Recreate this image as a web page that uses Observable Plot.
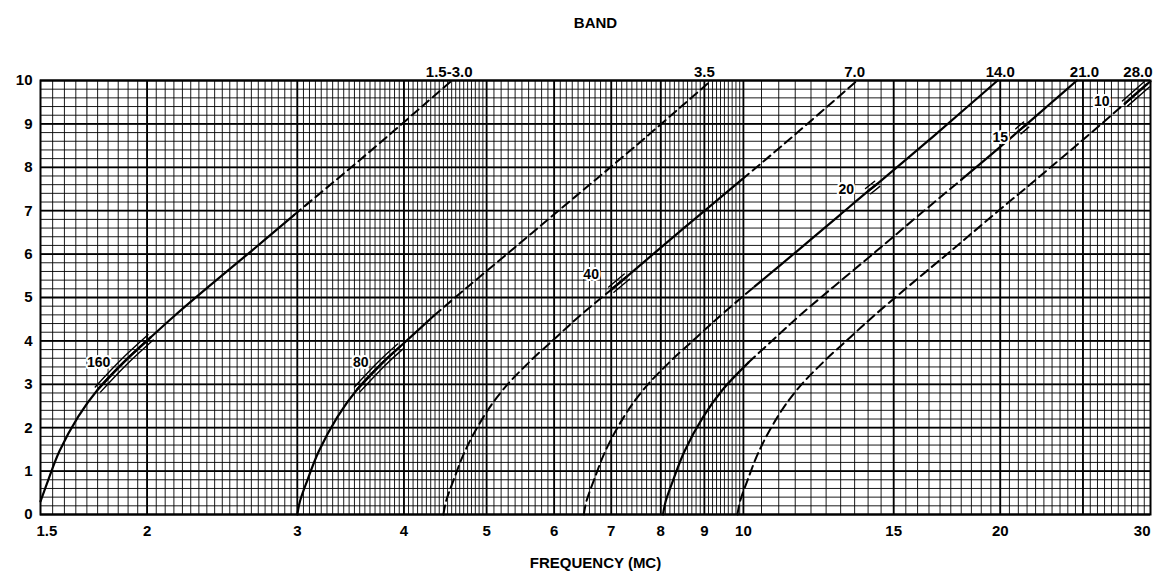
<!DOCTYPE html>
<html>
<head>
<meta charset="utf-8">
<script src="https://cdn.jsdelivr.net/npm/d3@7"></script>
<script src="https://cdn.jsdelivr.net/npm/@observablehq/plot@0.6"></script>
<style>
  html, body { margin: 0; padding: 0; background: #fff; }
  #chart svg { display: block; }
</style>
</head>
<body>
<div id="chart"></div>
<script>
// ---------- DATA ----------
// Curve points: [frequency (MC), value]
const curve160 = [[1.5,0.3],[1.532,0.8],[1.578,1.45],[1.66,2.25],[1.751,2.88],[1.876,3.5],[2.019,4.08],[2.154,4.58],[2.361,5.25],[2.65,6.07],[2.973,6.9],[3.336,7.72],[3.743,8.55],[4.199,9.4],[4.552,10]];
const curve80  = [[3.0,0],[3.021,0.3],[3.084,0.8],[3.178,1.45],[3.343,2.25],[3.525,2.88],[3.777,3.5],[3.96,3.87],[4.336,4.58],[4.755,5.25],[5.335,6.07],[5.986,6.9],[6.716,7.72],[7.536,8.55],[8.455,9.4],[9.165,10]];
const curve40  = [[4.45,0],[4.481,0.3],[4.575,0.8],[4.714,1.45],[4.959,2.25],[5.228,2.88],[5.602,3.5],[6.031,4.08],[6.432,4.58],[7.0,5.18],[7.3,5.48],[7.913,6.07],[8.879,6.9],[9.962,7.72],[11.178,8.55],[12.542,9.4],[13.594,10]];
const curve20  = [[6.5,0],[6.545,0.3],[6.682,0.8],[6.885,1.45],[7.243,2.25],[7.637,2.88],[8.183,3.5],[8.809,4.08],[9.395,4.58],[10.302,5.25],[11.559,6.07],[12.969,6.9],[14.0,7.45],[14.35,7.62],[16.327,8.55],[18.32,9.4],[19.857,10]];
const curve15  = [[8.05,0],[8.106,0.3],[8.275,0.8],[8.527,1.45],[8.97,2.25],[9.458,2.88],[10.134,3.5],[10.909,4.08],[11.635,4.58],[12.758,5.25],[14.315,6.07],[16.062,6.9],[18.022,7.72],[20.221,8.55],[21.0,8.83],[21.45,8.985],[22.688,9.4],[24.592,10]];
const curve10  = [[9.84,0],[9.908,0.3],[10.116,0.8],[10.424,1.45],[10.965,2.25],[11.561,2.88],[12.388,3.5],[13.335,4.08],[14.223,4.58],[15.595,5.25],[17.498,6.07],[19.634,6.9],[22.029,7.72],[24.717,8.55],[28.0,9.47],[29.7,9.91],[30.0,9.98]];

const curveNames = ["160","80","40","20","15","10"];
const curveData  = [curve160, curve80, curve40, curve20, curve15, curve10];

// Line style segments along each curve: [from MC, to MC, style]
const segments160 = [[1.5,2.973,"solid"],[2.973,4.552,"dashed"]];
const segments80  = [[3.0,4.336,"solid"],[4.336,9.165,"dashed"]];
const segments40  = [[4.45,7.0,"dashed"],[7.0,9.962,"solid"],[9.962,13.594,"dashed"]];
const segments20  = [[6.5,10.302,"dashed"],[10.302,19.857,"solid"]];
const segments15  = [[8.05,10.134,"solid"],[10.134,18.022,"dashed"],[18.022,24.592,"solid"]];
const segments10  = [[9.84,28.0,"dashed"],[28.0,30.0,"solid"]];
const segmentData = [segments160, segments80, segments40, segments20, segments15, segments10];

// Band markers (double lines) along each curve: [from MC, to MC]
const bandMarks = [[1.751,2.019],[3.525,3.96],[7.0,7.3],[14.0,14.35],[21.0,21.45],[28.0,29.7]];

// Curve labels: position (MC, value)
const labelFreq  = [1.755, 3.56, 6.63, 13.2, 20.0, 26.3];
const labelValue = [3.5, 3.5, 5.53, 7.49, 8.69, 9.52];

// Top "BAND" axis
const bandLabels = ["1.5-3.0","3.5","7.0","14.0","21.0","28.0"];
const bandFreq   = [4.52, 9.0, 13.5, 20.0, 25.1, 29.0];

// Bottom axis ticks
const freqTicks  = [1.5,2,3,4,5,6,7,8,9,10,15,20,30];
const freqLabels = ["1.5","2","3","4","5","6","7","8","9","10","15","20","30"];
// Left axis ticks
const valueTicks = [0,1,2,3,4,5,6,7,8,9,10];

// ---------- Grid of the graph paper ----------
const vGrid = [
  ...d3.range(150, 500, 5).map(d => d / 100),   // 1.5 – 5 every 0.05
  ...d3.range(50, 100, 1).map(d => d / 10),     // 5 – 10 every 0.1
  ...d3.range(20, 61, 1).map(d => d / 2)        // 10 – 30 every 0.5
];
const vMajor = [2,3,4,5,6,7,8,9,10,15,20,25];
const hGrid = d3.range(0, 51, 1).map(d => d / 5);

// ---------- Build tables ----------
const solidRows = [], dashedRows = [], markRows = [];
curveData.forEach((pts, ci) => {
  segmentData[ci].forEach(([a, b, style], si) => {
    const seg = curveNames[ci] + "-" + si;
    const target = style === "solid" ? solidRows : dashedRows;
    pts.filter(([f]) => f >= a - 1e-9 && f <= b + 1e-9)
       .forEach(([f, v]) => target.push({seg, f, v}));
  });
  const [a, b] = bandMarks[ci];
  pts.filter(([f]) => f >= a - 1e-9 && f <= b + 1e-9)
     .forEach(([f, v]) => markRows.push({seg: curveNames[ci], f, v}));
});
const labelRows = curveNames.map((t, i) => ({t, f: labelFreq[i], v: labelValue[i]}));
const bandMap = new Map(bandFreq.map((f, i) => [f, bandLabels[i]]));
const freqMap = new Map(freqTicks.map((f, i) => [f, freqLabels[i]]));

const font = "'Liberation Sans', Arial, Helvetica, sans-serif";

const chart = Plot.plot({
  width: 1156,
  height: 580,
  marginLeft: 40,
  marginRight: 6,
  marginTop: 80,
  marginBottom: 66,
  x: {type: "log", domain: [1.5, 30]},
  y: {domain: [0, 10]},
  style: {fontFamily: font, fontSize: "15px", fontWeight: "bold", background: "#fff", color: "#000"},
  marks: [
    Plot.ruleX(vGrid, {stroke: "#000", strokeWidth: 0.9}),
    Plot.ruleX(vMajor, {stroke: "#000", strokeWidth: 1.8}),
    Plot.ruleY(hGrid, {stroke: "#000", strokeWidth: 0.9}),
    Plot.ruleY(valueTicks, {stroke: "#000", strokeWidth: 1.8}),
    Plot.frame({stroke: "#000", strokeWidth: 2}),
    Plot.line(dashedRows, {x: "f", y: "v", z: "seg", curve: "catmull-rom", stroke: "#000", strokeWidth: 2, strokeDasharray: "9,5"}),
    Plot.line(solidRows, {x: "f", y: "v", z: "seg", curve: "catmull-rom", stroke: "#000", strokeWidth: 2.2}),
    Plot.line(markRows, {x: "f", y: "v", z: "seg", curve: "catmull-rom", stroke: "#000", strokeWidth: 2.2}),
    Plot.line(markRows, {x: "f", y: "v", z: "seg", curve: "catmull-rom", stroke: "#000", strokeWidth: 1.4, dx: 2.6, dy: 2.6}),
    Plot.line(markRows, {x: "f", y: "v", z: "seg", curve: "catmull-rom", stroke: "#000", strokeWidth: 1.4, dx: -2.6, dy: -2.6}),
    Plot.text(labelRows, {x: "f", y: "v", text: "t", fill: "#000", stroke: "#fff", strokeWidth: 4, fontSize: 14, fontWeight: "bold"}),
    Plot.axisY({ticks: valueTicks, tickSize: 0, tickPadding: 8, label: null, fontSize: 15}),
    Plot.axisX({ticks: freqTicks.slice(1, -1), tickSize: 0, tickPadding: 11, tickFormat: d => freqMap.get(d), label: null}),
    Plot.text([1.5], {x: d => d, frameAnchor: "bottom", dy: 11, dx: -4, lineAnchor: "top", textAnchor: "start", text: d => freqMap.get(d)}),
    Plot.text([30], {x: d => d, frameAnchor: "bottom", dy: 11, lineAnchor: "top", textAnchor: "end", text: d => freqMap.get(d)}),
    Plot.axisX({anchor: "top", ticks: bandFreq, tickSize: 0, tickPadding: 4, tickFormat: d => bandMap.get(d), label: null}),
    Plot.text(["BAND"], {frameAnchor: "top", dy: -63, text: d => d, fontSize: 15}),
    Plot.text(["FREQUENCY (MC)"], {frameAnchor: "bottom", dy: 53, text: d => d, fontSize: 15, letterSpacing: "1px"})
  ]
});
document.getElementById("chart").appendChild(chart);
</script>
</body>
</html>
